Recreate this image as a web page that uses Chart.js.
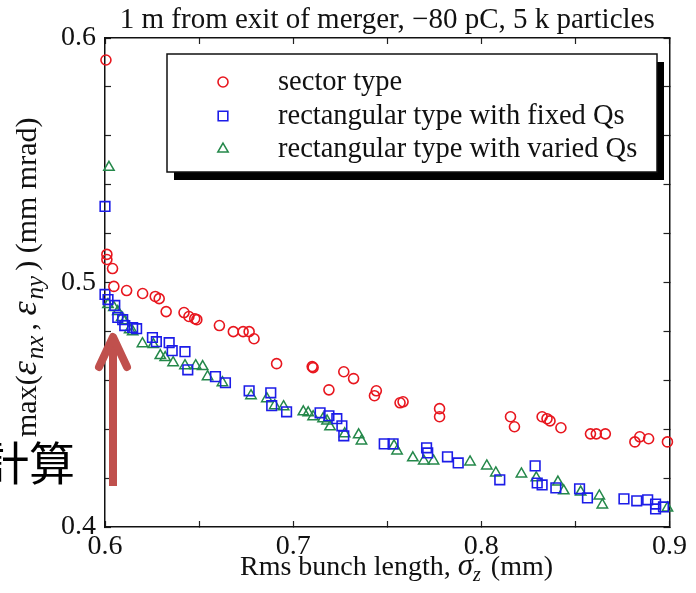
<!DOCTYPE html>
<html><head><meta charset="utf-8">
<script src="https://cdn.jsdelivr.net/npm/chart.js@4.4.0/dist/chart.umd.min.js"></script>
<style>html,body{margin:0;padding:0;background:#fff;}#wrap{position:relative;width:696px;height:593px;}canvas{display:block;}</style>
</head><body><div id="wrap"><canvas id="c" width="696" height="593"></canvas></div>
<script>
const titleText = '1 m from exit of merger, \u221280 pC, 5 k particles';
const seriesLabels = ['sector type', 'rectangular type with fixed Qs', 'rectangular type with varied Qs'];
const xMajorTicks = [0.6, 0.7, 0.8, 0.9];
const yMajorTicks = [0.4, 0.5, 0.6];
const annotationText = '計算';

const sectorX = [0.6005,0.601,0.601,0.604,0.6047,0.6115,0.620,0.6267,0.6288,0.6325,0.642,0.6446,0.6477,0.6488,0.6608,0.6682,0.6734,0.6766,0.6792,0.6912,0.7101,0.7106,0.719,0.7269,0.7321,0.7432,0.7442,0.7568,0.7584,0.7778,0.7778,0.8155,0.8176,0.8323,0.8349,0.8365,0.8423,0.858,0.8611,0.8659,0.8816,0.8842,0.8889,0.8989];
const sectorY = [0.591,0.5115,0.5094,0.5057,0.4984,0.4967,0.4955,0.4943,0.4934,0.4881,0.4877,0.4861,0.4852,0.4848,0.4824,0.4799,0.4799,0.4799,0.477,0.4668,0.4656,0.4652,0.4561,0.4635,0.4607,0.4537,0.4557,0.4508,0.4512,0.4484,0.4451,0.4451,0.441,0.4451,0.4443,0.4434,0.4406,0.4381,0.4381,0.4381,0.4348,0.4369,0.4361,0.4348];

const fixedX = [0.6,0.6,0.6016,0.6052,0.6068,0.6094,0.6105,0.6147,0.6168,0.6252,0.6273,0.6341,0.6357,0.6425,0.644,0.6587,0.664,0.6766,0.6881,0.6886,0.6965,0.7143,0.719,0.7232,0.7259,0.7269,0.7484,0.7531,0.7709,0.7715,0.782,0.7877,0.8098,0.8286,0.8297,0.8323,0.8396,0.8522,0.8564,0.8758,0.8826,0.8884,0.8926,0.8926,0.8968];
const fixedY = [0.5311,0.4951,0.493,0.4906,0.4857,0.4848,0.4824,0.4816,0.4811,0.4775,0.4758,0.4754,0.4721,0.4717,0.4643,0.4615,0.459,0.4557,0.4549,0.4496,0.4471,0.4467,0.4455,0.4443,0.4414,0.4373,0.434,0.434,0.4324,0.4303,0.4287,0.4262,0.4193,0.425,0.418,0.4172,0.416,0.4156,0.4119,0.4115,0.4107,0.4111,0.4094,0.4074,0.4082];

const variedX = [0.6021,0.6016,0.6047,0.6068,0.6089,0.6105,0.6131,0.6147,0.6199,0.6257,0.6294,0.632,0.6362,0.6425,0.6482,0.6519,0.6545,0.6624,0.6776,0.686,0.6902,0.6949,0.7054,0.708,0.7106,0.7159,0.718,0.7196,0.7274,0.7348,0.7363,0.7536,0.7552,0.7636,0.7694,0.7746,0.794,0.8029,0.8077,0.8213,0.8292,0.8407,0.8438,0.8528,0.8627,0.8643,0.8989];
const variedY = [0.5471,0.491,0.4898,0.4881,0.4857,0.4844,0.4807,0.4799,0.475,0.4746,0.4701,0.4693,0.4672,0.466,0.466,0.4656,0.4615,0.459,0.4537,0.4525,0.4496,0.4492,0.4471,0.4467,0.4451,0.4443,0.4434,0.441,0.4381,0.4377,0.4352,0.4332,0.4311,0.4283,0.427,0.427,0.4266,0.425,0.4221,0.4217,0.4201,0.4184,0.4148,0.4143,0.4127,0.409,0.4078];

const toPts = (xs, ys) => xs.map((x, i) => ({x: x, y: ys[i]}));
const SERIF = '"Liberation Serif", "Times New Roman", serif';
const RED = '#e8161e', BLUE = '#1c1ce8', GREEN = '#24884a';

function isMajor(v, list) { return list.some(m => Math.abs(m - v) < 1e-6); }
function fmt(v) { return (Math.round(v * 10) / 10).toFixed(1); }

const xTitleSegs = [{t: 'Rms bunch length, '}, {t: '\u03c3', it: true, size: 31}, {t: 'z', it: true, sub: true, gap: 3}, {t: ' (mm)'}];
const yTitleSegs = [{t: 'max('}, {t: '\u03b5', it: true, size: 36, gap: 2}, {t: 'nx', it: true, sub: true, gap: 5}, {t: ', '}, {t: '\u03b5', it: true, size: 36, gap: 2}, {t: 'ny', it: true, sub: true, gap: 5}, {t: ') (mm mrad)'}];

function drawRich(ctx, segs, x, y, size, subSize, subDy) {
  let cx = x;
  for (const s of segs) {
    const sz = s.size || (s.sub ? subSize : size);
    ctx.font = (s.it ? 'italic ' : '') + sz + 'px ' + SERIF;
    ctx.fillText(s.t, cx, y + (s.sub ? subDy : 0));
    cx += ctx.measureText(s.t).width + (s.gap || 0);
  }
}

const decorPlugin = {
  id: 'decor',
  afterDraw(chart) {
    const ctx = chart.ctx;
    ctx.save();
    ctx.fillStyle = '#111';
    ctx.textBaseline = 'alphabetic';
    ctx.textAlign = 'left';
    // x axis title
    drawRich(ctx, xTitleSegs, 240, 575, 28, 20, 6);
    // y axis title (rotated)
    ctx.save();
    ctx.translate(36, 437);
    ctx.rotate(-Math.PI / 2);
    drawRich(ctx, yTitleSegs, 0, 0, 30, 25, 7);
    ctx.restore();

    // legend box with shadow
    const lx = 167, ly = 54, lw = 490, lh = 118;
    ctx.fillStyle = '#000';
    ctx.fillRect(lx + 7, ly + 8, lw, lh);
    ctx.fillStyle = '#fff';
    ctx.fillRect(lx, ly, lw, lh);
    ctx.strokeStyle = '#111';
    ctx.lineWidth = 1.5;
    ctx.strokeRect(lx, ly, lw, lh);
    const rowsY = [82, 116, 149];
    chart.data.datasets.forEach((ds, i) => {
      ctx.save();
      ctx.strokeStyle = ds.borderColor;
      ctx.fillStyle = 'rgba(0,0,0,0)';
      ctx.lineWidth = ds.pointBorderWidth;
      Chart.helpers.drawPoint(ctx, {pointStyle: ds.pointStyle, radius: ds.pointRadius, borderWidth: ds.pointBorderWidth, rotation: 0}, 223, rowsY[i]);
      ctx.restore();
      ctx.fillStyle = '#111';
      ctx.font = '28.5px ' + SERIF;
      ctx.textBaseline = 'middle';
      ctx.fillText(ds.label, 278, rowsY[i] + 1);
    });

    // annotation arrow
    ctx.strokeStyle = 'rgb(192,80,77)';
    ctx.lineWidth = 8;
    ctx.lineCap = 'butt';
    ctx.beginPath();
    ctx.moveTo(113, 486);
    ctx.lineTo(113, 338);
    ctx.stroke();
    ctx.lineCap = 'round';
    ctx.lineJoin = 'round';
    ctx.beginPath();
    ctx.moveTo(99, 367);
    ctx.lineTo(113, 337);
    ctx.lineTo(127, 367);
    ctx.stroke();

    // annotation text
    ctx.fillStyle = '#000';
    ctx.font = '46px "Noto Sans CJK JP"';
    ctx.textAlign = 'right';
    ctx.textBaseline = 'middle';
    ctx.fillText(annotationText, 75, 463);
    ctx.restore();
  }
};

const axisCommon = {
  type: 'linear',
  border: {display: true, color: '#111', width: 1.5},
  grid: {drawOnChartArea: false, drawTicks: true, tickLength: -6, tickColor: '#222', tickWidth: 1.2}
};

new Chart(document.getElementById('c'), {
  type: 'scatter',
  data: {
    datasets: [
      {label: seriesLabels[0], data: toPts(sectorX, sectorY), pointStyle: 'circle', pointRadius: 5, pointBorderWidth: 1.6, borderColor: RED, backgroundColor: 'rgba(0,0,0,0)', pointBackgroundColor: 'rgba(0,0,0,0)', pointBorderColor: RED, clip: false},
      {label: seriesLabels[1], data: toPts(fixedX, fixedY), pointStyle: 'rect', pointRadius: 6.8, pointBorderWidth: 1.6, borderColor: BLUE, backgroundColor: 'rgba(0,0,0,0)', pointBackgroundColor: 'rgba(0,0,0,0)', pointBorderColor: BLUE, clip: false},
      {label: seriesLabels[2], data: toPts(variedX, variedY), pointStyle: 'triangle', pointRadius: 6, pointBorderWidth: 1.5, borderColor: GREEN, backgroundColor: 'rgba(0,0,0,0)', pointBackgroundColor: 'rgba(0,0,0,0)', pointBorderColor: GREEN, clip: false}
    ]
  },
  options: {
    responsive: false,
    animation: false,
    devicePixelRatio: 1,
    layout: {padding: {left: 0, right: 19, top: 0, bottom: 0}},
    plugins: {
      legend: {display: false},
      tooltip: {enabled: false},
      title: {display: true, text: titleText, fullSize: false, color: '#111', font: {family: SERIF, size: 29, weight: 'normal', lineHeight: 1}, padding: {top: 6, bottom: 3}}
    },
    scales: {
      x: Object.assign({}, axisCommon, {
        position: 'bottom', min: 0.6, max: 0.9,
        ticks: {stepSize: 0.05, autoSkip: false, maxRotation: 0, padding: 9, color: '#111', font: {family: SERIF, size: 28, lineHeight: 1.2},
          callback: v => isMajor(v, xMajorTicks) ? fmt(v) : ''},
        afterFit: s => { s.height = 66; }
      }),
      x2: Object.assign({}, axisCommon, {
        position: 'top', min: 0.6, max: 0.9,
        ticks: {display: false, stepSize: 0.05, autoSkip: false},
        afterFit: s => { s.height = 0; }
      }),
      y: Object.assign({}, axisCommon, {
        position: 'left', min: 0.4, max: 0.6,
        ticks: {stepSize: 0.02, autoSkip: false, padding: 15, color: '#111', font: {family: SERIF, size: 28},
          callback: v => isMajor(v, yMajorTicks) ? fmt(v) : ''},
        afterFit: s => { s.width = 105; }
      }),
      y2: Object.assign({}, axisCommon, {
        position: 'right', min: 0.4, max: 0.6,
        ticks: {display: false, stepSize: 0.02, autoSkip: false},
        afterFit: s => { s.width = 0; }
      })
    }
  },
  plugins: [decorPlugin]
});
</script></body></html>
